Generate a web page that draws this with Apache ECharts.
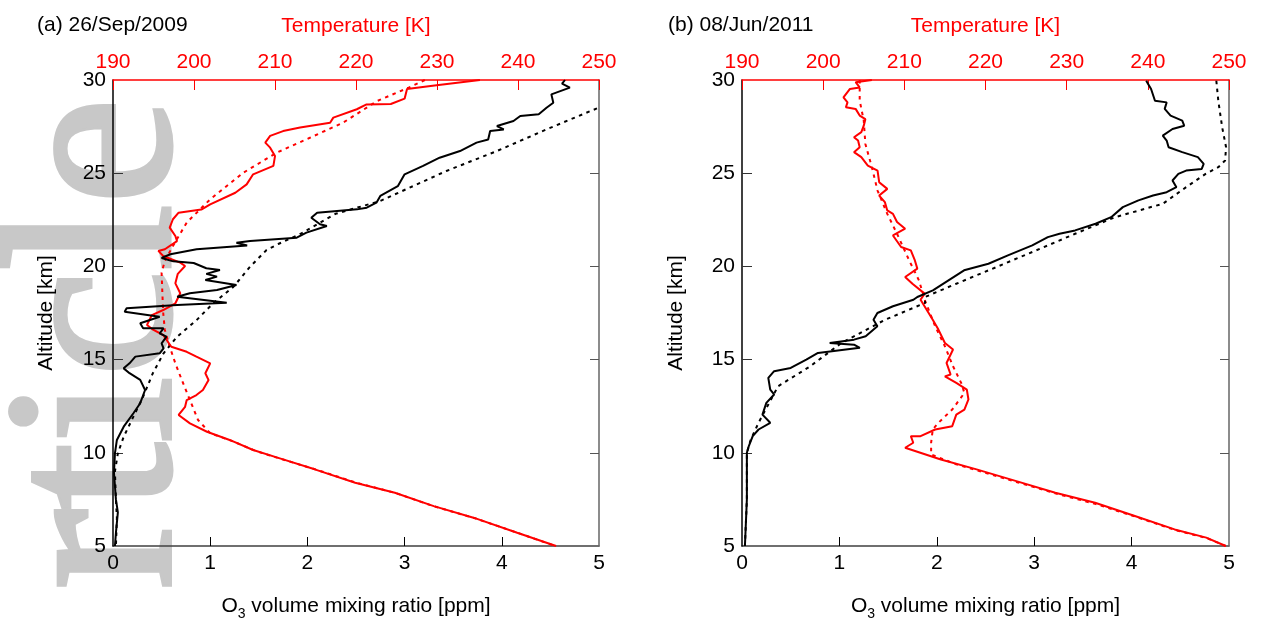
<!DOCTYPE html>
<html>
<head>
<meta charset="utf-8">
<script src="https://cdn.jsdelivr.net/npm/echarts@6/dist/echarts.min.js"></script>
<style>
html,body{margin:0;padding:0;background:#fff;overflow:hidden;}
#c{width:1262px;height:624px;}
</style>
</head>
<body>
<div id="c"></div>
<script>
// ---- tick labels / axis ranges ----
const o3Ticks = [0, 1, 2, 3, 4, 5];
const tempTicks = [190, 200, 210, 220, 230, 240, 250];
const altTicks = [5, 10, 15, 20, 25, 30];
const panelTitles = ['(a) 26/Sep/2009', '(b) 08/Jun/2011'];

// ---- Panel (a): O3 [ppm, altitude km] ----
const a_o3_obs = [[4.65,30.0],[4.62,29.8],[4.70,29.59],[4.51,29.23],[4.53,28.78],[4.46,28.51],[4.38,28.16],[4.19,28.07],[4.12,27.8],[3.95,27.53],[4.02,27.35],[3.88,27.26],[3.86,26.81],[3.74,26.64],[3.57,26.19],[3.36,25.83],[3.19,25.39],[3.0,24.94],[2.93,24.3],[2.75,23.78],[2.71,23.42],[2.61,23.15],[2.51,23.06],[2.10,22.88],[2.04,22.61],[2.13,22.26],[2.20,22.17],[1.99,21.81],[1.89,21.54],[1.41,21.36],[1.27,21.27],[1.38,21.12],[0.86,20.92],[0.59,20.65],[0.50,20.45],[0.62,20.27],[0.83,20.18],[0.96,19.9],[1.10,19.81],[0.96,19.6],[1.07,19.45],[0.95,19.27],[1.27,19.0],[1.07,18.73],[0.79,18.56],[0.66,18.37],[1.17,18.05],[0.66,17.93],[0.14,17.75],[0.12,17.57],[0.48,17.3],[0.28,16.95],[0.31,16.68],[0.52,16.68],[0.48,16.41],[0.55,16.23],[0.50,15.87],[0.52,15.6],[0.48,15.34],[0.23,15.16],[0.17,14.8],[0.11,14.53],[0.17,14.27],[0.28,13.91],[0.33,13.37],[0.28,12.66],[0.21,12.12],[0.11,11.4],[0.04,10.69],[0.02,9.97],[0.01,8.93],[0.03,7.5],[0.05,6.8],[0.03,5.7],[0.02,5.0]];
const a_o3_model = [[5.66,30],[4.98,28.48],[4.46,27.35],[3.95,26.19],[3.43,25.12],[2.75,23.51],[2.29,22.82],[1.93,21.75],[1.70,21.2],[1.58,20.88],[1.41,19.98],[1.24,18.91],[1.03,18.02],[0.86,17.12],[0.66,16.23],[0.52,15.34],[0.41,14.27],[0.31,13.01],[0.21,11.94],[0.11,10.86],[0.05,9.97],[0.02,9.0],[0.03,7.5],[0.04,6.5],[0.03,5.0]];
// ---- Panel (a): Temperature [K, altitude km] ----
const a_t_obs = [[235.3,30.0],[229.7,29.7],[226.3,29.52],[226.0,29.0],[224.3,28.71],[221.3,28.69],[220.1,28.43],[217.2,27.98],[216.8,27.71],[213.1,27.45],[211.0,27.26],[209.4,27.0],[208.8,26.64],[209.4,26.37],[210.0,25.92],[209.8,25.39],[207.3,24.94],[206.5,24.4],[205.1,23.95],[202.0,23.33],[200.9,23.05],[198.1,22.88],[197.4,22.53],[197.0,22.08],[197.7,21.63],[197.9,21.36],[196.4,20.92],[195.6,20.83],[196.2,20.56],[198.3,20.2],[198.9,20.02],[198.0,19.6],[197.7,19.09],[198.3,18.56],[197.7,18.02],[196.2,17.66],[194.8,17.39],[194.2,16.86],[195.0,16.59],[196.2,16.32],[197.2,15.69],[199.1,15.42],[200.3,15.16],[202.0,14.8],[201.4,14.27],[201.8,13.9],[201.1,13.37],[200.3,13.1],[199.1,12.83],[198.9,12.47],[198.1,12.03],[199.5,11.58],[201.6,11.13],[204.4,10.69],[207.3,10.15],[210.6,9.7],[215.0,9.1],[219.9,8.39],[224.8,7.86],[229.6,7.14],[234.5,6.52],[239.9,5.71],[244.7,5.0]];
const a_t_model = [[228.5,30],[226.5,29.59],[222.6,28.87],[218.4,27.71],[214.3,26.9],[210.2,26.1],[206.1,25.03],[202.0,23.6],[199.1,22.35],[197.4,21.1],[196.4,20.3],[196.0,19.66],[196.1,18.5],[196.2,17.5],[196.4,16.59],[197.0,15.69],[197.7,14.8],[198.5,13.9],[199.5,12.83],[200.5,11.76],[202.0,11.05],[204.9,10.6],[207.6,10.1],[210.9,9.65],[215.2,9.08],[220.0,8.4],[224.9,7.84],[229.7,7.12],[234.6,6.5],[240.0,5.7],[244.6,5.0]];

// ---- Panel (b): O3 ----
const b_o3_obs = [[4.15,29.96],[4.20,29.52],[4.24,28.89],[4.36,28.8],[4.34,28.45],[4.40,28.09],[4.52,27.82],[4.54,27.55],[4.42,27.37],[4.32,27.02],[4.36,26.75],[4.38,26.39],[4.52,26.13],[4.68,25.86],[4.74,25.5],[4.72,25.23],[4.56,25.14],[4.48,24.96],[4.42,24.61],[4.46,24.25],[4.36,23.98],[4.22,23.8],[4.07,23.54],[3.91,23.18],[3.79,22.64],[3.63,22.29],[3.42,21.93],[3.26,21.75],[3.14,21.57],[2.98,21.13],[2.73,20.59],[2.53,20.14],[2.28,19.79],[2.12,19.25],[1.96,18.71],[1.80,18.36],[1.76,18.21],[1.55,17.86],[1.39,17.5],[1.35,17.14],[1.39,16.79],[1.27,16.25],[1.15,16.07],[0.90,15.89],[1.15,15.8],[1.21,15.63],[0.78,15.36],[0.66,15.0],[0.50,14.55],[0.33,14.38],[0.27,14.02],[0.29,13.39],[0.33,13.13],[0.25,12.68],[0.21,12.05],[0.29,11.61],[0.17,11.25],[0.11,10.89],[0.07,10.36],[0.05,10.0],[0.05,7.5],[0.03,5.0]];
const b_o3_model = [[4.87,29.96],[4.89,28.89],[4.93,27.46],[4.97,26.39],[4.96,25.68],[4.89,25.32],[4.76,24.96],[4.56,24.25],[4.32,23.36],[3.83,22.64],[3.42,21.75],[3.02,20.86],[2.61,19.96],[2.20,19.07],[1.88,18.36],[1.88,18.04],[1.47,17.14],[1.02,15.89],[0.70,14.64],[0.37,13.57],[0.17,11.61],[0.09,10.71],[0.05,10.0],[0.05,7.5],[0.03,5.0]];
// ---- Panel (b): Temperature ----
const b_t_obs = [[206.0,30.0],[204.0,29.88],[204.5,29.6],[203.3,29.52],[202.5,29.07],[203.0,28.8],[202.8,28.54],[204.0,28.45],[204.5,28.09],[205.2,27.9],[205.0,27.55],[204.7,27.2],[203.8,26.93],[204.3,26.75],[204.5,26.39],[203.8,26.13],[204.7,25.86],[205.5,25.41],[206.7,25.14],[206.9,24.52],[207.9,24.16],[206.9,23.8],[207.6,23.45],[207.9,23.0],[208.6,22.82],[209.1,22.38],[210.1,22.02],[208.6,21.66],[209.6,21.04],[210.8,20.86],[211.3,20.32],[211.6,19.88],[210.1,19.43],[211.0,19.07],[212.5,18.54],[212.0,18.21],[213.5,17.14],[214.2,16.61],[215.0,15.89],[216.0,15.54],[215.2,14.82],[215.7,14.2],[215.0,14.1],[216.4,13.75],[217.7,13.39],[217.9,12.86],[217.4,12.32],[216.4,12.05],[215.9,11.43],[213.8,11.25],[212.0,10.89],[210.8,10.89],[211.1,10.54],[210.1,10.27],[210.0,10.18],[214.5,9.64],[218.9,9.11],[223.8,8.48],[228.6,7.86],[233.5,7.32],[238.4,6.61],[243.3,5.89],[247.2,5.45],[249.6,5.0]];
const b_t_model = [[204.5,30],[204.5,28.9],[205.0,27.82],[205.2,26.57],[206.0,25.32],[206.7,24.07],[207.9,22.82],[209.1,21.75],[210.6,20.32],[211.8,19.25],[212.6,18.1],[213.8,16.79],[215.0,15.71],[216.0,14.64],[217.0,13.75],[217.4,13.21],[215.9,12.32],[214.2,11.61],[213.5,11.25],[213.3,10.54],[213.3,9.91],[216.4,9.38],[219.0,9.05],[223.9,8.42],[228.8,7.8],[233.6,7.25],[238.5,6.57],[243.4,5.85],[247.3,5.42],[249.6,5.0]];

const FONT = '"Liberation Sans", Arial, sans-serif';
const FS = 21;
const RED = '#ff0000';
const inner = (arr) => arr.slice(1, arr.length - 1);

function xO3(gi) {
  return {
    type: 'value', gridIndex: gi, position: 'bottom', z: 0,
    min: o3Ticks[0], max: o3Ticks[o3Ticks.length - 1], interval: 1,
    axisLine: { show: true, onZero: false, lineStyle: { color: '#404040', width: 1.5 } },
    axisTick: { show: true, inside: true, length: 9, customValues: inner(o3Ticks), lineStyle: { color: '#000', width: 1 } },
    axisLabel: { color: '#000', fontSize: FS, fontFamily: FONT, margin: 7 },
    splitLine: { show: false },
    name: '{n|O}{s|3}{n| volume mixing ratio [ppm]}',
    nameLocation: 'middle', nameGap: 50,
    nameTextStyle: {
      color: '#000', fontFamily: FONT,
      rich: {
        n: { fontSize: FS, fontFamily: FONT, color: '#000', lineHeight: 21 },
        s: { fontSize: 14, fontFamily: FONT, color: '#000', lineHeight: 14, padding: [15, 0, 0, 0] }
      }
    }
  };
}
function xT(gi) {
  return {
    type: 'value', gridIndex: gi, position: 'top', z: 2,
    min: tempTicks[0], max: tempTicks[tempTicks.length - 1], interval: 10,
    axisLine: { show: true, onZero: false, lineStyle: { color: RED, width: 1.5 } },
    axisTick: { show: true, inside: true, length: 10, lineStyle: { color: RED, width: 1 } },
    axisLabel: { color: RED, fontSize: FS, fontFamily: FONT, margin: 7 },
    splitLine: { show: false },
    name: 'Temperature [K]', nameLocation: 'middle', nameGap: 43,
    nameTextStyle: { color: RED, fontSize: FS, fontFamily: FONT }
  };
}
function yAlt(gi, gap) {
  return {
    type: 'value', gridIndex: gi, position: 'left', z: 1,
    min: altTicks[0], max: altTicks[altTicks.length - 1], interval: 5,
    axisLine: { show: true, onZero: false, lineStyle: { color: '#000', width: 1.5 } },
    axisTick: { show: true, inside: true, length: 10, customValues: inner(altTicks), lineStyle: { color: '#333', width: 1 } },
    axisLabel: { color: '#000', fontSize: FS, fontFamily: FONT, margin: 7 },
    splitLine: { show: false },
    name: 'Altitude [km]', nameLocation: 'middle', nameGap: gap, nameRotate: 90,
    nameTextStyle: { color: '#000', fontSize: FS, fontFamily: FONT }
  };
}
function yRight(gi) {
  return {
    type: 'value', gridIndex: gi, position: 'right', z: 1,
    min: altTicks[0], max: altTicks[altTicks.length - 1], interval: 5,
    axisLine: { show: true, onZero: false, lineStyle: { color: '#666', width: 1.5 } },
    axisTick: { show: true, inside: true, length: 9, customValues: inner(altTicks), lineStyle: { color: '#555', width: 1 } },
    axisLabel: { show: false },
    splitLine: { show: false }
  };
}
function line(data, xi, yi, color, dotted) {
  return {
    type: 'line', data: data, xAxisIndex: xi, yAxisIndex: yi,
    showSymbol: false, symbol: 'none', silent: true, animation: false, clip: true,
    lineStyle: { color: color, width: 2, type: dotted ? [3.5, 4.5] : 'solid' },
    z: dotted ? 3 : 4
  };
}

const chart = echarts.init(document.getElementById('c'), null, { renderer: 'canvas' });
chart.setOption({
  backgroundColor: '#fff',
  animation: false,
  grid: [
    { left: 113, top: 80, width: 486, height: 466, containLabel: false, outerBoundsMode: 'none' },
    { left: 742, top: 80, width: 487, height: 466, containLabel: false, outerBoundsMode: 'none' }
  ],
  xAxis: [xO3(0), xT(0), xO3(1), xT(1)],
  yAxis: [yAlt(0, 56), yRight(0), yAlt(1, 55), yRight(1)],
  graphic: [
    { type: 'text', x: 106, y: 589, rotation: Math.PI / 2, z: -10, silent: true,
      style: { text: 'rticle', font: '239px "Liberation Serif", "Times New Roman", serif', fill: '#c8c8c8', stroke: '#c8c8c8', lineWidth: 5, textAlign: 'left', textVerticalAlign: 'middle' } },
    { type: 'text', x: 37, y: 25, silent: true,
      style: { text: panelTitles[0], font: FS + 'px ' + FONT, fill: '#000', textAlign: 'left', textVerticalAlign: 'middle' } },
    { type: 'text', x: 668, y: 25, silent: true,
      style: { text: panelTitles[1], font: FS + 'px ' + FONT, fill: '#000', textAlign: 'left', textVerticalAlign: 'middle' } }
  ],
  series: [
    line(a_t_model, 1, 0, RED, true),
    line(a_t_obs, 1, 0, RED, false),
    line(a_o3_model, 0, 0, '#000', true),
    line(a_o3_obs, 0, 0, '#000', false),
    line(b_t_model, 3, 2, RED, true),
    line(b_t_obs, 3, 2, RED, false),
    line(b_o3_model, 2, 2, '#000', true),
    line(b_o3_obs, 2, 2, '#000', false)
  ]
});
</script>
</body>
</html>
